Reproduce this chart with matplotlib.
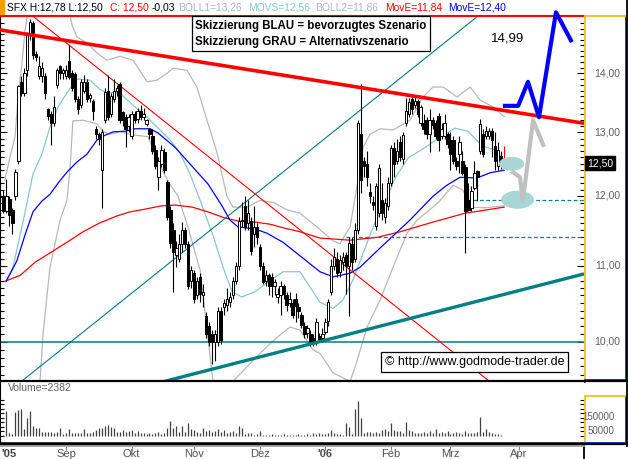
import numpy as np
import pandas as pd
import matplotlib
matplotlib.use('Agg')
import matplotlib.pyplot as plt
from matplotlib.lines import Line2D
from matplotlib.patches import Rectangle
from matplotlib.path import Path
from matplotlib.ticker import FixedLocator, NullFormatter

plt.rcParams['font.family'] = ['Liberation Sans', 'DejaVu Sans']

# trading days, index 0 = 1 Aug 2005 (candles start at index 1)
days = pd.bdate_range('2005-08-01', '2006-04-28')

# daily candles (index 1..170)
opens = [12.01, 12.00, 11.78, 11.96, 11.79, 12.00, 12.55, 13.85, 13.65, 14.05,
         14.70, 14.90, 14.35, 13.95, 13.95, 13.95, 13.38, 13.30, 13.15, 13.80,
         14.12, 14.00, 13.95, 14.22, 14.00, 13.98, 13.55, 13.45, 13.70, 13.85,
         13.57, 13.52, 13.05, 12.97, 12.40, 13.20, 13.70, 13.30, 13.55, 13.70,
         13.82, 13.33, 13.25, 13.10, 12.95, 13.30, 13.22, 13.35, 13.25, 13.13,
         13.05, 12.95, 12.72, 12.30, 12.50, 12.68, 12.22, 11.80, 11.50, 11.15,
         11.10, 11.30, 11.50, 11.30, 10.80, 10.90, 10.60, 10.85, 10.60, 10.33,
         10.20, 10.10, 10.00, 10.00, 10.40, 10.45, 10.48, 10.52, 10.60, 10.80,
         11.00, 11.63, 11.85, 11.60, 11.64, 11.45, 11.55, 11.27, 11.00, 10.80,
         10.88, 10.85, 10.72, 10.58, 10.60, 10.72, 10.60, 10.50, 10.50, 10.56,
         10.45, 10.34, 10.20, 10.12, 10.10, 10.05, 10.00, 10.08, 10.05, 10.13,
         10.27, 10.65, 11.00, 11.10, 10.92, 11.05, 11.15, 11.00, 11.30, 11.10,
         11.50, 12.98, 12.55, 12.50, 12.06, 11.92, 11.57, 11.75, 11.95, 11.70,
         11.85, 12.20, 12.75, 12.55, 12.85, 12.58, 13.15, 13.30, 13.55, 13.45,
         13.52, 13.15, 13.15, 13.20, 12.97, 13.20, 13.15, 13.27, 12.95, 12.95,
         12.97, 12.87, 12.87, 12.55, 12.65, 12.55, 12.45, 11.95, 11.83, 12.12,
         12.38, 12.70, 12.97, 12.95, 12.95, 13.02, 12.78, 12.47, 12.62, 12.55]
highs = [12.05, 12.10, 12.27, 12.00, 11.82, 12.42, 13.80, 13.95, 14.10, 14.75,
         14.99, 14.95, 14.40, 14.30, 14.20, 14.00, 13.40, 13.35, 13.60, 14.10,
         14.15, 14.10, 14.15, 14.50, 14.05, 14.02, 13.60, 13.90, 13.97, 13.90,
         13.65, 13.55, 13.10, 13.00, 13.05, 13.75, 13.97, 13.65, 13.90, 13.80,
         13.85, 13.35, 13.30, 13.30, 13.35, 13.35, 13.40, 13.45, 13.40, 13.22,
         13.08, 13.05, 12.80, 12.60, 12.80, 12.75, 12.25, 11.85, 11.60, 11.35,
         11.45, 11.62, 11.55, 11.35, 11.00, 10.95, 10.85, 10.90, 10.75, 10.38,
         10.25, 10.15, 10.15, 10.45, 10.45, 10.55, 10.70, 10.65, 10.85, 11.05,
         11.70, 11.92, 12.00, 11.95, 11.70, 11.85, 11.60, 11.30, 11.05, 10.95,
         10.90, 10.90, 10.82, 10.70, 10.80, 10.75, 10.65, 10.65, 10.55, 10.63,
         10.50, 10.38, 10.25, 10.22, 10.15, 10.10, 10.30, 10.12, 10.18, 10.30,
         10.55, 11.10, 11.25, 11.20, 11.15, 11.20, 11.20, 11.40, 11.40, 11.60,
         13.20, 13.81, 12.60, 12.70, 12.20, 12.00, 12.20, 12.50, 12.20, 11.98,
         12.30, 12.80, 12.85, 12.90, 12.95, 13.00, 13.58, 13.58, 13.60, 13.60,
         13.55, 13.45, 13.30, 13.25, 13.38, 13.25, 13.20, 13.32, 13.15, 13.30,
         13.00, 13.00, 12.95, 12.60, 12.95, 12.70, 12.50, 12.20, 12.15, 12.55,
         12.40, 13.22, 13.05, 13.10, 13.08, 13.08, 13.00, 12.85, 12.70, 12.78]
lows = [11.95, 11.75, 11.75, 11.57, 11.45, 11.95, 12.50, 13.60, 13.60, 13.95,
        14.60, 14.25, 14.22, 13.90, 13.85, 13.55, 13.20, 12.80, 13.10, 13.75,
        13.90, 13.90, 13.90, 13.90, 13.70, 13.50, 13.30, 13.40, 13.65, 13.50,
        13.50, 13.20, 12.90, 12.80, 11.83, 13.15, 13.20, 13.25, 13.50, 13.60,
        13.15, 13.10, 12.77, 13.00, 12.90, 13.15, 13.15, 13.20, 13.20, 13.10,
        12.90, 12.65, 12.42, 12.10, 12.45, 12.35, 11.65, 11.25, 10.65, 10.98,
        11.05, 11.20, 11.25, 10.68, 10.70, 10.50, 10.55, 10.52, 10.45, 10.05,
        9.95, 9.73, 9.76, 9.95, 9.98, 10.35, 10.40, 10.45, 10.55, 10.75,
        10.95, 11.55, 11.50, 11.50, 11.15, 11.27, 11.30, 10.95, 10.75, 10.72,
        10.60, 10.58, 10.60, 10.50, 10.35, 10.55, 10.40, 10.45, 10.30, 10.25,
        10.30, 10.18, 10.05, 10.05, 9.95, 9.95, 9.96, 10.00, 10.00, 10.10,
        10.20, 10.60, 10.95, 10.85, 10.85, 10.95, 10.62, 10.33, 10.95, 11.05,
        11.45, 12.05, 12.30, 12.15, 11.90, 11.80, 11.50, 11.70, 11.65, 11.60,
        11.80, 12.15, 12.30, 12.50, 12.55, 12.50, 13.10, 13.25, 13.30, 13.40,
        13.25, 13.10, 12.97, 12.90, 12.68, 13.05, 12.90, 12.70, 12.90, 12.90,
        12.75, 12.40, 12.50, 12.40, 12.35, 12.33, 11.18, 11.78, 11.78, 12.10,
        11.93, 12.65, 12.60, 12.90, 12.90, 12.60, 12.40, 12.40, 12.42, 12.50]
closes = [11.99, 11.78, 12.00, 11.73, 11.60, 12.37, 13.78, 13.65, 14.00, 14.68,
          14.92, 14.32, 14.28, 14.12, 14.10, 13.65, 13.27, 13.15, 13.42, 14.05,
          14.00, 14.05, 14.05, 13.93, 13.75, 13.55, 13.38, 13.85, 13.85, 13.55,
          13.63, 13.35, 12.97, 12.90, 13.00, 13.68, 13.25, 13.60, 13.70, 13.75,
          13.20, 13.20, 13.05, 13.25, 13.30, 13.20, 13.35, 13.25, 13.30, 13.20,
          12.97, 12.70, 12.47, 12.55, 12.72, 12.40, 11.70, 11.32, 11.20, 11.25,
          11.30, 11.50, 11.30, 10.72, 10.95, 10.55, 10.80, 10.62, 10.65, 10.10,
          10.00, 10.00, 10.10, 10.40, 10.02, 10.50, 10.55, 10.58, 10.80, 11.00,
          11.63, 11.65, 11.55, 11.75, 11.21, 11.55, 11.40, 11.00, 10.78, 10.88,
          10.72, 10.72, 10.78, 10.62, 10.72, 10.62, 10.48, 10.56, 10.35, 10.46,
          10.40, 10.22, 10.10, 10.18, 10.00, 10.00, 10.25, 10.04, 10.10, 10.26,
          10.52, 11.00, 11.12, 10.90, 11.08, 11.12, 11.00, 11.32, 11.05, 11.50,
          13.15, 12.25, 12.47, 12.30, 12.00, 11.87, 12.15, 12.44, 11.75, 11.90,
          12.20, 12.75, 12.50, 12.70, 12.60, 12.96, 13.35, 13.50, 13.38, 13.52,
          13.30, 13.42, 13.05, 12.97, 13.20, 13.12, 12.95, 12.87, 13.05, 13.15,
          12.82, 12.65, 12.55, 12.47, 12.85, 12.36, 11.78, 11.80, 12.08, 12.36,
          12.30, 13.13, 12.65, 13.02, 13.03, 12.88, 12.55, 12.72, 12.53, 12.50]
volumes = [8000, 8000, 141000, 15000, 10000, 135000, 144000, 150000, 37000, 98000,
           139000, 56000, 43000, 43000, 24000, 24000, 24000, 24000, 15000, 24000,
           43000, 11000, 19000, 37000, 15000, 15000, 19000, 15000, 39000, 19000,
           15000, 24000, 33000, 46000, 46000, 57000, 61000, 52000, 43000, 24000,
           24000, 33000, 20000, 30000, 33000, 15000, 28000, 15000, 15000, 11000,
           15000, 9000, 15000, 24000, 9000, 15000, 43000, 83000, 43000, 56000,
           24000, 56000, 24000, 70000, 37000, 33000, 24000, 19000, 43000, 30000,
           33000, 24000, 30000, 37000, 24000, 33000, 15000, 24000, 30000, 19000,
           57000, 43000, 11000, 19000, 15000, 6000, 11000, 30000, 6000, 8000,
           7000, 9000, 6000, 8000, 7000, 9000, 6000, 8000, 7000, 6000,
           9000, 8000, 6000, 10000, 7000, 15000, 9000, 19000, 11000, 11000,
           15000, 33000, 15000, 11000, 9000, 7000, 70000, 52000, 11000, 150000,
           196000, 102000, 15000, 24000, 24000, 19000, 20000, 15000, 33000, 37000,
           28000, 74000, 33000, 30000, 30000, 19000, 80000, 33000, 28000, 15000,
           15000, 19000, 24000, 15000, 28000, 15000, 37000, 19000, 24000, 15000,
           30000, 11000, 15000, 24000, 15000, 11000, 30000, 19000, 15000, 19000,
           24000, 104000, 24000, 37000, 24000, 15000, 11000, 9000, 6000, 2382]

# indicators (x = trading-day index, y = price)
ema200_x = [2.5, 7.6, 12.6, 17.6, 23.3, 28.7, 34.4, 40.1, 44.5, 49.5, 55.2, 59.6, 65.3, 70.6,
            76.3, 81.4, 86.4, 91.4, 96.5, 101.5, 108.2, 118.3, 127.4, 135.1, 146.1, 156.9, 164.3, 170]
ema200_y = [10.79, 10.87, 11.05, 11.18, 11.33, 11.48, 11.61, 11.71, 11.77, 11.81, 11.86, 11.87, 11.84, 11.77,
            11.68, 11.63, 11.62, 11.59, 11.53, 11.48, 11.39, 11.36, 11.40, 11.48, 11.62, 11.75, 11.80, 11.84]
ema50_x = [2.9, 6.5, 9.2, 11.9, 14.9, 17.6, 20.3, 23.3, 26.7, 30.0, 33.4, 35.4, 38.8, 42.8, 46.1, 51.2,
           53.9, 59.6, 65.3, 70.6, 75.3, 78.0, 80.7, 86.4, 90.4, 95.8, 101.5, 108.2, 112.6, 118.3,
           121.6, 128.4, 132.7, 138.4, 146.1, 150.8, 155.2, 160.9, 165.3, 170]
ema50_y = [10.79, 11.07, 11.43, 11.77, 11.93, 12.03, 12.20, 12.37, 12.53, 12.65, 12.88, 12.94, 13.01, 13.02,
           13.06, 13.06, 12.99, 12.76, 12.46, 12.19, 11.86, 11.65, 11.55, 11.52, 11.46, 11.33, 11.14, 10.92,
           10.85, 10.90, 10.98, 11.25, 11.42, 11.65, 12.00, 12.17, 12.29, 12.28, 12.36, 12.40]
movs_x = [3.2, 5.2, 8.6, 11.9, 14.9, 17.6, 20.3, 23.3, 26.7, 31.0, 34.4, 36.7, 39.4, 41.8, 45.5, 50.2,
          54.5, 57.9, 61.2, 64.6, 68.0, 72.3, 75.7, 78.7, 82.0, 86.4, 90.4, 95.8, 101.5, 108.2, 112.6,
          115.9, 119.3, 122.7, 126.7, 130.7, 133.4, 137.8, 143.5, 149.2, 153.5, 157.9, 162.6, 166.9, 170]
movs_y = [10.82, 10.98, 11.63, 12.34, 12.65, 13.09, 13.42, 13.66, 13.90, 13.88, 13.72, 13.66, 13.67, 13.62,
          13.45, 13.25, 13.04, 12.88, 12.67, 12.34, 11.94, 11.43, 10.98, 10.65, 10.58, 10.65, 10.77, 10.92,
          10.92, 10.51, 10.43, 10.54, 10.81, 11.18, 11.62, 11.97, 12.28, 12.59, 12.76, 12.94, 13.07, 13.02,
          12.78, 12.72, 12.56]
boll1_x = [2.5, 4.2, 5.9, 6.9, 8.2, 9.2, 10.9, 15.9, 21.0, 23.7, 25.0, 26.7, 30.0, 33.4, 36.7, 41.1, 45.5,
           50.2, 53.5, 56.9, 58.9, 63.6, 66.9, 70.3, 73.7, 77.0, 79.0, 83.7, 88.1, 92.5, 97.1, 101.5, 107.2,
           112.6, 114.9, 118.3, 120.6, 122.7, 125.0, 128.4, 132.7, 138.4, 142.8, 146.1, 149.5, 154.2, 156.2,
           158.6, 161.9, 166.3, 170]
boll1_y = [12.25, 12.61, 12.93, 13.59, 14.16, 14.76, 15.34, 15.83, 15.73, 15.25, 14.87, 14.65, 14.54, 14.36,
           14.23, 14.30, 14.23, 13.85, 13.88, 14.00, 14.09, 14.05, 13.76, 13.20, 12.67, 12.00, 11.84, 11.84,
           11.94, 11.91, 11.80, 11.75, 11.55, 11.35, 11.31, 11.55, 12.14, 12.76, 12.97, 13.06, 13.04, 13.20,
           13.59, 13.76, 13.76, 13.59, 13.67, 13.76, 13.54, 13.42, 13.26]
boll2_x = [2.5, 9.2, 13.3, 14.3, 15.3, 17.6, 21.0, 23.3, 24.3, 25.3, 28.7, 33.4, 35.4, 37.8, 41.1, 45.5,
           50.5, 53.9, 57.2, 60.6, 63.9, 68.0, 72.3, 74.7, 79.0, 88.1, 93.8, 98.2, 101.5, 105.9, 108.2,
           112.6, 118.3, 120.0, 124.0, 128.4, 132.7, 137.4, 140.8, 146.1, 148.5, 152.9, 156.2, 158.6, 163.6, 170]
boll2_y = [9.18, 8.96, 9.18, 9.54, 10.11, 10.98, 11.65, 11.94, 12.40, 13.19, 13.20, 13.14, 13.02, 12.97,
           13.01, 12.96, 12.93, 12.54, 12.23, 12.00, 11.55, 10.94, 9.52, 9.07, 9.52, 9.86, 10.06, 10.19,
           10.15, 9.90, 9.86, 9.62, 9.52, 9.69, 10.19, 10.54, 10.98, 11.46, 11.65, 11.84, 11.94, 12.17,
           12.09, 11.84, 11.83, 11.86]

# drawn trend lines and scenario sketches
resist_x, resist_y = [0.84, 196.8], [14.78, 13.15]
down_x, down_y = [10.9, 168.6], [15.08, 9.42]
up_x, up_y = [7.0, 163.0], [9.49, 15.12]
support_x, support_y = [55.0, 196.8], [9.51, 10.89]
level_10 = 10.0
dashed_levels = [11.40, 11.95]
dashed_from = [117.0, 157.5]
blue_x = [170.3, 174.7, 178.0, 181.7, 187.4, 192.4]
blue_y = [13.44, 13.44, 13.85, 13.25, 15.11, 14.59]
gray_x = [173.0, 175.3, 176.3, 179.7, 183.1]
gray_y = [12.37, 12.29, 11.94, 13.20, 12.80]
zone_x = [172.5, 174.5]
zone_y = [12.50, 11.95]
price_ticks = [10, 11, 12, 13, 14]

W, H = 628, 459
fig = plt.figure(figsize=(W / 100, H / 100), dpi=100)


def panel(x0, y0, x1, y1):
    return fig.add_axes([x0 / W, 1 - y1 / H, (x1 - x0) / W, (y1 - y0) / H])


XLIM = (0.84, 196.8)
YLIM = (9.524, 15.04)

# ---- price panel
ax = panel(0, 16, 584, 381)
ax.set_yscale('log')
ax.set_xlim(*XLIM)
ax.set_ylim(*YLIM)
ax.set_xticks([])
ax.yaxis.set_major_locator(FixedLocator(price_ticks))
ax.yaxis.set_minor_locator(FixedLocator([v / 10 for v in range(96, 151) if v % 10]))
ax.yaxis.set_major_formatter(NullFormatter())
ax.yaxis.set_minor_formatter(NullFormatter())
ax.tick_params(axis='y', which='both', direction='in', left=True, right=True, width=0.8)
ax.tick_params(axis='y', which='major', length=5)
ax.tick_params(axis='y', which='minor', length=3)
ax.spines['top'].set_color('red')
ax.spines['top'].set_linewidth(1.5)
ax.spines['bottom'].set_linewidth(1.8)
ax.spines['right'].set_visible(False)
ax.spines['left'].set_linewidth(0.8)

ax.plot(boll1_x, boll1_y, color='#b8b8b8', lw=0.9, zorder=2)
ax.plot(boll2_x, boll2_y, color='#b8b8b8', lw=0.9, zorder=2)
ax.plot(movs_x, movs_y, color='#88c8c8', lw=0.9, zorder=2)
ax.plot(ema200_x, ema200_y, color='#ff0000', lw=0.9, zorder=2)
ax.plot(ema50_x, ema50_y, color='#0000ff', lw=0.9, zorder=2)

ax.axhline(level_10, color='#008080', lw=1.1, zorder=2)
ax.plot(up_x, up_y, color='#008080', lw=0.8, zorder=2)
ax.plot(down_x, down_y, color='#ff0000', lw=0.8, zorder=2)
for lev, x0 in zip(dashed_levels, dashed_from):
    ax.plot([x0, XLIM[1]], [lev, lev], color='#008080', lw=0.9, ls=(0, (3, 2)), zorder=2)

# candles
o = np.array(opens)
h = np.array(highs)
l = np.array(lows)
c = np.array(closes)
x = np.arange(1, len(c) + 1)
lo = np.minimum(o, c)
hgt = np.maximum(np.abs(c - o), 0.012)
fill = np.where(c > o, 'white', 'black')
edge = ['black'] * (len(c) - 1) + ['red']
fill[-1] = 'red'
ax.vlines(x, l, h, colors=edge, lw=0.8, zorder=4)
ax.bar(x, hgt, bottom=lo, width=0.8, color=fill, edgecolor=edge, linewidth=0.7, zorder=5)

ax.plot(resist_x, resist_y, color='#ff0000', lw=2.6, zorder=6, solid_capstyle='butt')
ax.plot(support_x, support_y, color='#008080', lw=2.4, zorder=6, solid_capstyle='butt')

t = np.linspace(0, 2 * np.pi, 60)
oval = Path(np.column_stack([np.cos(t), 0.55 * np.sin(t)]))
ax.scatter(zone_x, zone_y, marker=oval, s=[330, 560], color='#a8d6d6', edgecolors='none', zorder=6)
ax.plot(gray_x, gray_y, color='#c0c0c0', lw=3.0, zorder=7)
ax.plot(blue_x, blue_y, color='#0000ff', lw=3.0, zorder=7, clip_on=False)

ax.text(171.3, 14.62, '14,99', fontsize=9.5, ha='center', va='center', zorder=8)
ax.text(0.334, 0.99,
        'Skizzierung BLAU = bevorzugtes Szenario\nSkizzierung GRAU = Alternativszenario',
        transform=ax.transAxes, fontsize=8.3, fontweight='bold', ha='left', va='top',
        linespacing=1.45, zorder=9,
        bbox=dict(boxstyle='square,pad=0.3', fc='white', ec='black', lw=0.9))
ax.text(0.8125, 0.052, '\u00a9 http://www.godmode-trader.de', transform=ax.transAxes,
        fontsize=9, ha='center', va='center', zorder=9,
        bbox=dict(boxstyle='square,pad=0.3', fc='white', ec='black', lw=0.9))

# ---- price scale box
axr = panel(585, 16, 626, 380)
axr.set_yscale('log')
axr.set_ylim(*YLIM)
axr.set_xticks([])
axr.set_yticks([])
axr.minorticks_off()
for side, col in (('left', '#f0c020'), ('top', '#f0c020'), ('right', '#0030c0'), ('bottom', '#0030c0')):
    axr.spines[side].set_color(col)
    axr.spines[side].set_linewidth(1.3)
ytr = axr.get_yaxis_transform()
for v in price_ticks:
    axr.text(0.55, v, f'{v},00', transform=ytr, fontsize=7.5, color='#606060', ha='center', va='center')
axr.text(0.37, closes[-1], f'{closes[-1]:.2f}'.replace('.', ','), transform=ytr, fontsize=7.5,
         color='white', ha='center', va='center',
         bbox=dict(boxstyle='square,pad=0.2', fc='black', ec='black'))

# ---- volume panel
axv = panel(0, 382, 584, 443)
axv.set_xlim(*XLIM)
axv.set_ylim(-38900, 300000)
axv.vlines(x, 0, volumes, color='#404040', lw=0.9)
axv.set_xticks([])
axv.set_yticks([0, 25000, 50000, 75000, 100000, 125000, 150000, 175000, 200000])
axv.set_yticklabels([])
axv.tick_params(axis='y', direction='in', left=True, right=True, length=3, width=0.8)
axv.spines['top'].set_visible(False)
axv.spines['right'].set_visible(False)
axv.spines['bottom'].set_linewidth(1.8)
axv.spines['left'].set_linewidth(0.8)
axv.text(0.013, 0.9, f'Volume={volumes[-1]}', transform=axv.transAxes, fontsize=7.5, color='#606060',
         ha='left', va='center')

axvr = panel(585, 396, 626, 443)
axvr.set_ylim(-38900, 300000)
axvr.set_xticks([])
axvr.set_yticks([])
for side, col in (('left', '#f0c020'), ('top', '#f0c020'), ('right', '#0030c0'), ('bottom', '#0030c0')):
    axvr.spines[side].set_color(col)
    axvr.spines[side].set_linewidth(1.3)
vtr = axvr.get_yaxis_transform()
for v in (150000, 50000):
    axvr.text(0.72, v, str(v), transform=vtr, fontsize=7, color='#606060', ha='right', va='center')

# ---- date strip
axd = panel(0, 446, 584, 459)
axd.set_xlim(*XLIM)
axd.set_ylim(0, 1)
axd.set_yticks([])
for side in ('left', 'bottom'):
    axd.spines[side].set_visible(False)
axd.spines['top'].set_color('#a0a0a0')
axd.spines['top'].set_linewidth(1.3)
axd.spines['right'].set_linewidth(1.3)
month_pos = [i for i in range(1, len(days)) if days[i].month != days[i - 1].month]
month_names = {1: "'06", 9: 'Sep', 10: 'Okt', 11: 'Nov', 12: 'Dez', 2: 'Feb', 3: 'Mrz', 4: 'Apr'}
axd.set_xticks(month_pos)
axd.set_xticklabels([])
axd.tick_params(axis='x', direction='in', top=True, bottom=False, length=3, color='#808080')
xtr = axd.get_xaxis_transform()
axd.text(XLIM[0] + 0.3, 0.4, "'05", transform=xtr, fontsize=8, fontweight='bold', color='#404040',
         ha='left', va='center')
for p in month_pos:
    m = days[p].month
    axd.text(p, 0.4, month_names[m], transform=xtr, fontsize=8, color='#505050', ha='center', va='center',
             fontweight='bold' if m == 1 else 'normal')

# ---- frame lines and header
fig.add_artist(Line2D([0, 1], [1 - 381 / H, 1 - 381 / H], color='black', lw=1.6))
fig.add_artist(Line2D([0, 1], [1 - 443.5 / H, 1 - 443.5 / H], color='black', lw=1.6))
fig.add_artist(Line2D([626.5 / W, 626.5 / W], [1 - 446 / H, 1], color='black', lw=1.3))
fig.add_artist(Rectangle((0, 1 - 14 / H), 4 / W, 14 / H, transform=fig.transFigure, color='#f5a000'))

header = [(7, 'SFX H:12,78 L:12,50', 'black'), (110, 'C: 12,50', 'red'), (152, '-0,03', 'black'),
          (178, 'BOLL1=13,26', '#b4b4b4'), (248, 'MOVS=12,56', '#88c8c8'), (315, 'BOLL2=11,86', '#b4b4b4'),
          (385, 'MovE=11,84', 'red'), (448, 'MovE=12,40', '#0000ff')]
for px, txt, col in header:
    fig.text(px / W, 1 - 8 / H, txt, fontsize=7.4, color=col, ha='left', va='center')

fig.savefig('out.png', dpi=100)
